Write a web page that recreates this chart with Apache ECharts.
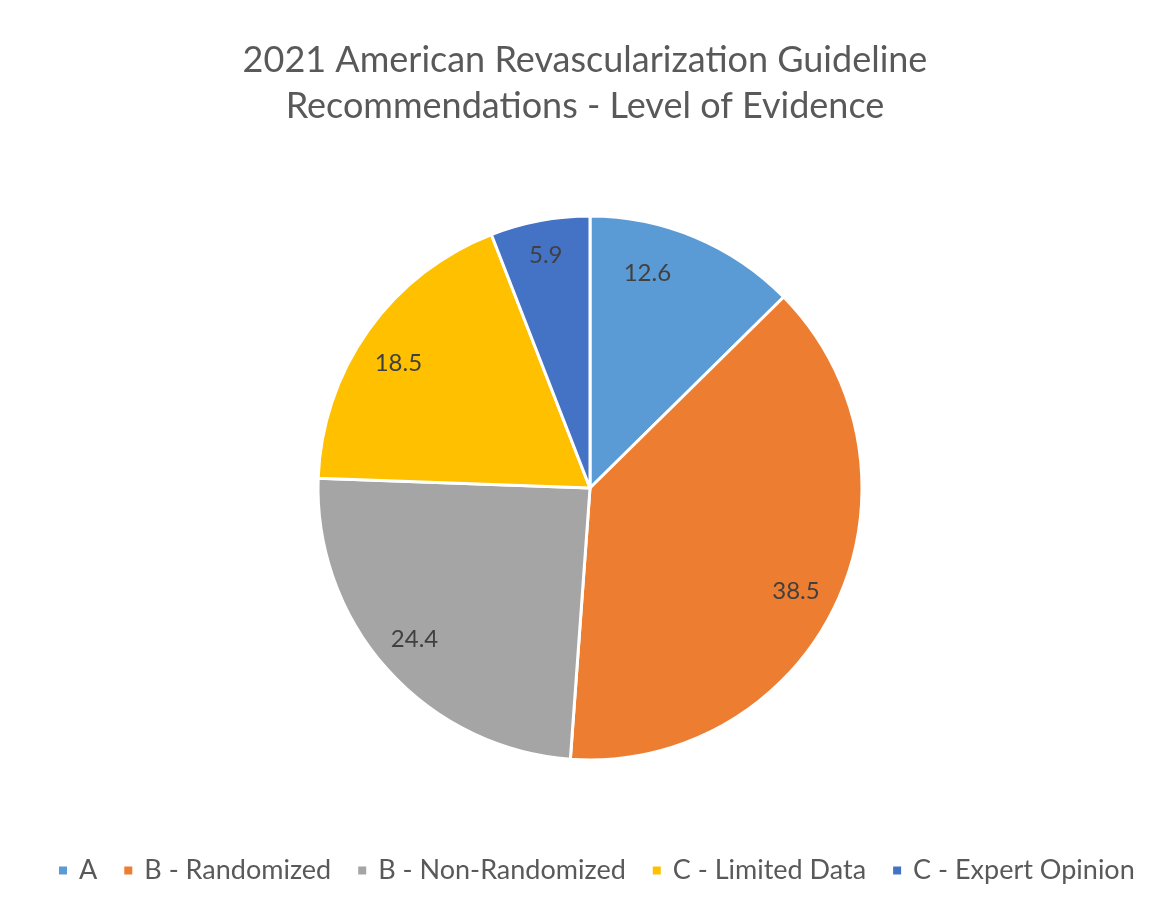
<!DOCTYPE html>
<html>
<head>
<meta charset="utf-8">
<script src="https://cdn.jsdelivr.net/npm/echarts@6/dist/echarts.min.js"></script>
<style>html,body{margin:0;padding:0;background:#fff}#c{width:1170px;height:906px}</style>
</head>
<body>
<div id="c"></div>
<script>
const categories = ['A', 'B - Randomized', 'B - Non-Randomized', 'C - Limited Data', 'C - Expert Opinion'];
const values = [12.6, 38.5, 24.4, 18.5, 5.9];
const colors = ['#5B9BD5', '#ED7D31', '#A5A5A5', '#FFC000', '#4472C4'];
const titleLines = ['2021 American Revascularization Guideline', 'Recommendations - Level of Evidence'];
// small nudges of the in-slice labels (pixels)
const labelNudges = [[-31, -3], [-2, 7], [-5, -2], [-5, 8], [-2, -8]];

const FONT = 'Lato, "Open Sans", sans-serif';
const data = categories.map((n, i) => ({ name: n, value: values[i], itemStyle: { color: colors[i] } }));
const chart = echarts.init(document.getElementById('c'));
chart.setOption({
  animation: false,
  title: {
    text: titleLines.join('\n'),
    left: 'center', top: 32,
    textStyle: { fontFamily: FONT, fontSize: 36, fontWeight: 'normal', color: '#595959', lineHeight: 46 }
  },
  legend: {
    top: 852, left: 52,
    icon: 'rect', itemWidth: 10, itemHeight: 10, itemGap: 25,
    textStyle: { fontFamily: FONT, fontSize: 27, color: '#595959', padding: [0, 0, 0, 6] },
    data: categories
  },
  series: [
    {
      type: 'pie', center: [590, 488], radius: [0, 272],
      startAngle: 90, clockwise: true,
      itemStyle: { borderColor: '#fff', borderWidth: 3 },
      label: { show: false }, labelLine: { show: false },
      silent: true,
      data: data
    },
    {
      type: 'pie', center: [590, 488], radius: [180, 272],
      startAngle: 90, clockwise: true,
      itemStyle: { color: 'rgba(0,0,0,0)', borderWidth: 0 },
      label: { show: true, position: 'inside', fontFamily: FONT, fontSize: 24, color: '#404040',
               formatter: p => p.value.toFixed(1) },
      labelLine: { show: false },
      silent: true,
      legendHoverLink: false,
      data: categories.map((n, i) => ({ name: n, value: values[i], label: { offset: labelNudges[i] } }))
    }
  ]
});
</script>
</body>
</html>
